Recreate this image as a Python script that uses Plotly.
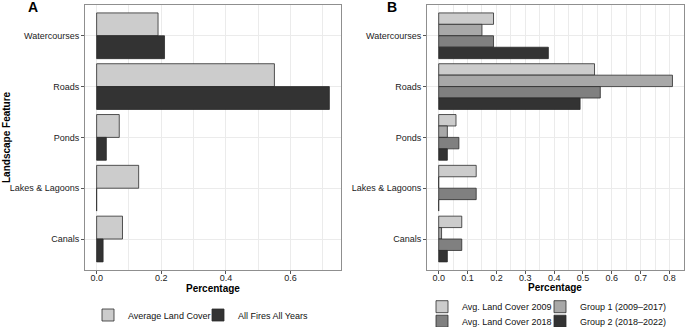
import plotly.graph_objects as go

categories = ["Watercourses", "Roads", "Ponds", "Lakes & Lagoons", "Canals"]

# Panel A
avg_land_cover = [0.19, 0.55, 0.07, 0.13, 0.08]
all_fires = [0.21, 0.72, 0.03, 0.0, 0.02]

# Panel B
avg_lc_2009 = [0.19, 0.54, 0.06, 0.13, 0.08]
group1 = [0.15, 0.81, 0.03, 0.0, 0.01]
avg_lc_2018 = [0.19, 0.56, 0.07, 0.13, 0.08]
group2 = [0.38, 0.49, 0.03, 0.0, 0.03]

W, H = 685, 327
FONT = "Liberation Sans, Arial, sans-serif"
LINE = dict(color="#2b2b2b", width=0.8)

fig = go.Figure()

fig.add_trace(go.Bar(y=categories, x=avg_land_cover, orientation="h", name="Average Land Cover",
                     marker=dict(color="#cccccc", line=LINE), xaxis="x", yaxis="y", legend="legend"))
fig.add_trace(go.Bar(y=categories, x=all_fires, orientation="h", name="All Fires All Years",
                     marker=dict(color="#333333", line=LINE), xaxis="x", yaxis="y", legend="legend2"))

fig.add_trace(go.Bar(y=categories, x=avg_lc_2009, orientation="h", name="Avg. Land Cover 2009",
                     marker=dict(color="#cccccc", line=LINE), xaxis="x2", yaxis="y2", legend="legend3"))
fig.add_trace(go.Bar(y=categories, x=group1, orientation="h", name="Group 1 (2009\u20132017)",
                     marker=dict(color="#a8a8a8", line=LINE), xaxis="x2", yaxis="y2", legend="legend4"))
fig.add_trace(go.Bar(y=categories, x=avg_lc_2018, orientation="h", name="Avg. Land Cover 2018",
                     marker=dict(color="#808080", line=LINE), xaxis="x2", yaxis="y2", legend="legend5"))
fig.add_trace(go.Bar(y=categories, x=group2, orientation="h", name="Group 2 (2018\u20132022)",
                     marker=dict(color="#333333", line=LINE), xaxis="x2", yaxis="y2", legend="legend6"))

def px_x(p):
    return p / W

def px_y(p):
    return 1 - p / H

top, bottom = 5.3, 269.5
grid = "#ebebeb"
border = "#8f8f8f"

common_x = dict(showline=True, mirror=True, linecolor=border, linewidth=1, showgrid=True, gridcolor=grid,
                gridwidth=1, zeroline=False, ticks="outside", ticklen=3, tickcolor="#555",
                ticklabelstandoff=-3,
                tickformat=".1f", tick0=0, tickfont=dict(size=9, color="#222", family=FONT))
common_y = dict(showline=True, mirror=True, linecolor=border, linewidth=1, showgrid=True, gridcolor=grid,
                gridwidth=1, zeroline=False, ticks="outside", ticklen=3, tickcolor="#555",
                type="category", categoryorder="array", categoryarray=categories,
                range=[4.6, -0.6], tickfont=dict(size=9, color="#222", family=FONT))

def leg(xpx, ypx):
    return dict(orientation="h", xanchor="left", yanchor="middle", x=px_x(xpx), y=px_y(ypx),
                font=dict(size=9, family=FONT, color="#111"), itemwidth=30, borderwidth=0,
                bgcolor="rgba(0,0,0,0)")

fig.update_layout(
    width=W, height=H,
    margin=dict(l=0, r=0, t=0, b=0, autoexpand=False),
    paper_bgcolor="white", plot_bgcolor="white",
    font=dict(family=FONT, size=9, color="#111"),
    barmode="group", bargap=0.1, bargroupgap=0,
    xaxis=dict(domain=[px_x(85), px_x(341)], range=[-0.036, 0.756], dtick=0.2,
               minor=dict(dtick=0.1, showgrid=True, gridcolor=grid, ticks=""), anchor="y", **common_x),
    yaxis=dict(domain=[px_y(bottom), px_y(top)], anchor="x", **common_y),
    xaxis2=dict(domain=[px_x(427), px_x(684)], range=[-0.0405, 0.85], dtick=0.1,
                minor=dict(dtick=0.05, showgrid=True, gridcolor=grid, ticks=""), anchor="y2", **common_x),
    yaxis2=dict(domain=[px_y(bottom), px_y(top)], anchor="x2", **common_y),
    showlegend=True,
    legend=leg(88, 315),
    legend2=leg(198, 315),
    legend3=leg(422, 306.7),
    legend4=leg(540, 306.7),
    legend5=leg(422, 321.2),
    legend6=leg(540, 321.2),
    annotations=[
        dict(text="<b>A</b>", x=px_x(33), y=px_y(7), xref="paper", yref="paper", showarrow=False,
             font=dict(size=14, family=FONT, color="#000"), xanchor="center", yanchor="middle"),
        dict(text="<b>B</b>", x=px_x(392), y=px_y(7), xref="paper", yref="paper", showarrow=False,
             font=dict(size=14, family=FONT, color="#000"), xanchor="center", yanchor="middle"),
        dict(text="<b>Percentage</b>", x=px_x(213), y=px_y(288), xref="paper", yref="paper", showarrow=False,
             font=dict(size=10, family=FONT, color="#000"), xanchor="center", yanchor="middle"),
        dict(text="<b>Percentage</b>", x=px_x(555), y=px_y(287), xref="paper", yref="paper", showarrow=False,
             font=dict(size=10, family=FONT, color="#000"), xanchor="center", yanchor="middle"),
        dict(text="<b>Landscape Feature</b>", x=px_x(6), y=px_y(137), xref="paper", yref="paper",
             showarrow=False, textangle=-90,
             font=dict(size=10, family=FONT, color="#000"), xanchor="center", yanchor="middle"),
    ],
)

fig.write_html("out.html", config={"displayModeBar": False},
               post_script="document.body.style.margin='0';document.body.style.overflow='hidden';")
